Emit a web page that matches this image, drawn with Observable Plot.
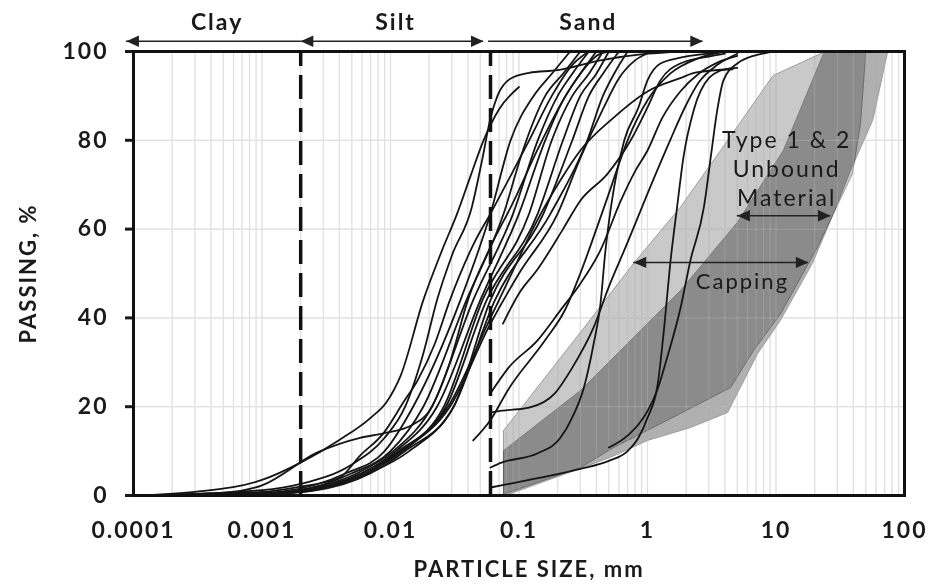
<!DOCTYPE html>
<html><head><meta charset="utf-8">
<script src="https://cdn.jsdelivr.net/npm/d3@7"></script>
<script src="https://cdn.jsdelivr.net/npm/@observablehq/plot@0.6"></script>
<style>
body{margin:0;background:#fff;}
#chart svg [aria-label="y-axis tick"]{stroke-width:3px;}
#chart svg g.tick line{stroke-width:3px;}
</style></head>
<body><div id="chart"></div>
<script>
// ---- axes ----
const xTicks = [0.0001, 0.001, 0.01, 0.1, 1, 10, 100];
const xTickLabels = ["0.0001", "0.001", "0.01", "0.1", "1", "10", "100"];
const yTicks = [0, 20, 40, 60, 80, 100];

// ---- soil classes (mm) ----
const classNames = ["Clay", "Silt", "Sand"];
const classLo = [0.0001, 0.002, 0.06];
const classHi = [0.002, 0.06, 2];
const classArrowStart = [0.000088, 0.002, 0.058];
const classArrowEnd = [0.002, 0.053, 2.7];
const classHeadStart = [true, true, false];
const classHeadEnd = [false, true, true];
const boundaries = [0.002, 0.06];

// ---- grading envelopes [size mm, passing %] ----
const cappingEnvelope = [[0.0757,0],[0.0757,14.6],[0.3,36.7],[0.78,52.3],[1.81,65],[3.7,77.7],[9.5,94.6],[23,99.7],[26,100],
  [50,100],[45.5,83.8],[39.4,72.5],[28,63.5],[21,55.9],[10.9,41],[6.7,32.7],[4.43,24.3],[1.81,18.5],[0.544,10.8],[0.301,6.3],[0.0785,0.45],[0.078,0]];
const type12Envelope = [[0.0757,0],[0.0757,10.1],[0.3,23.6],[1.81,46.2],[5.0,61.5],[11.4,77.7],[23.4,99.5],[25,100],
  [74,100],[56.6,84.5],[38,73.2],[28,63.5],[19.2,52.3],[10.8,39.4],[7.2,32],[4.2,18.7],[2.16,15.3],[1.0,12.4],[0.515,8.6],[0.3,6.1],[0.0785,0]];

// ---- grading curves [size mm, passing %] ----
const fine01 = [[0.0001,0],[0.0003,0.8],[0.001,3.5],[0.002,7.4],[0.004,12.5],[0.007,17.5],[0.0093,21],[0.012,27],[0.018,44],[0.025,55],[0.033,63.5],[0.042,72],[0.053,80],[0.07,87],[0.1,92]];
const fine02 = [[0.0001,0],[0.001,1.2],[0.002,2.6],[0.005,7],[0.009,13],[0.013,20],[0.018,32],[0.023,44],[0.03,54],[0.043,65],[0.052,76],[0.06,85],[0.068,90],[0.085,93.8],[0.12,95.2],[0.2,95.8],[0.43,98],[1.0,99.5],[1.8,100]];
const fine03 = [[0.0001,0],[0.0005,0.6],[0.001,2.3],[0.0027,9.7],[0.0058,13],[0.0088,14],[0.015,16],[0.02,19],[0.029,30],[0.04,44],[0.06,56],[0.09,66],[0.14,78],[0.22,89],[0.3,95],[0.4,99],[0.5,100]];
const fine04 = [[0.0001,0],[0.001,0.8],[0.002,2],[0.004,4],[0.0058,9],[0.0088,14],[0.0126,21],[0.0163,26],[0.022,34],[0.029,44],[0.045,57],[0.06,63.5],[0.086,72],[0.12,80],[0.18,90],[0.26,97],[0.35,100]];
const fine05 = [[0.0001,0],[0.0005,0.2],[0.0015,1],[0.0045,5],[0.009,10],[0.015,20],[0.035,44],[0.06,63.5],[0.086,80],[0.13,90],[0.18,95],[0.25,100]];
const fine06 = [[0.0001,0],[0.0006,0.2],[0.0018,1],[0.005,5],[0.01,10],[0.018,20],[0.039,44],[0.076,63.5],[0.108,78],[0.16,90],[0.22,95],[0.3,100]];
const fine07 = [[0.0001,0],[0.0006,0.2],[0.0017,1],[0.0055,5],[0.0105,10],[0.021,20],[0.044,44],[0.09,63.5],[0.14,80],[0.2,90],[0.26,95],[0.35,100]];
const fine08 = [[0.0001,0],[0.0007,0.2],[0.002,1],[0.006,5],[0.011,10],[0.023,20],[0.05,44],[0.1,63.5],[0.16,80],[0.22,89],[0.3,95],[0.4,100]];
const fine09 = [[0.0001,0],[0.0008,0.2],[0.0022,1],[0.0065,5],[0.012,10],[0.026,20],[0.052,44],[0.12,63.5],[0.18,80],[0.26,90],[0.35,95],[0.45,100]];
const fine10 = [[0.0001,0],[0.0006,0.2],[0.0019,1],[0.006,5],[0.0115,10],[0.027,20],[0.056,44],[0.14,63.5],[0.22,80],[0.3,90],[0.4,95],[0.5,100]];
const fine11 = [[0.0001,0],[0.0008,0.2],[0.0024,1],[0.007,5],[0.013,10],[0.031,20],[0.06,44],[0.155,63.5],[0.26,80],[0.35,90],[0.45,95],[0.6,100]];
const fine12 = [[0.0001,0],[0.0007,0.2],[0.0021,1],[0.0068,5],[0.014,10],[0.031,20],[0.065,44],[0.176,63.5],[0.34,80],[0.45,90],[0.55,95],[0.7,100]];
const fine13 = [[0.0001,0],[0.0008,0.2],[0.0023,1],[0.0065,5],[0.0125,10],[0.028,20],[0.06,40],[0.09,50.7],[0.13,60.4],[0.21,71],[0.3,77.7],[0.54,85],[1.0,91],[1.8,94],[2.4,95.3],[4.6,96]];
const fine14 = [[0.0001,0],[0.0007,0.2],[0.002,1],[0.006,5],[0.012,10],[0.029,20],[0.06,38.7],[0.1,50],[0.2,63.5],[0.3,76],[0.45,87],[0.6,94],[0.8,98],[1.1,100]];
const sand01 = [[0.06,1.8],[0.12,3.5],[0.2,4.8],[0.3,6],[0.5,7.8],[0.7,10],[0.85,13],[1.0,17.5],[1.2,25],[1.35,38],[1.5,52],[1.7,65],[1.9,76],[2.3,87],[3.0,94],[4.0,96],[5.0,96.3]];
const sand02 = [[0.5,10.8],[0.7,13.5],[0.85,16],[1.0,19],[1.2,24],[1.4,30.4],[1.8,42],[2.16,53],[2.75,65],[3.1,76],[3.5,87],[3.9,93.5],[5.0,97.3],[7.8,99.5],[9.5,100]];
const sand03 = [[0.06,6.3],[0.073,7.4],[0.14,9.5],[0.21,13],[0.26,17.6],[0.32,24.3],[0.38,34],[0.43,43],[0.47,55],[0.52,65],[0.66,80],[0.85,87.4],[1.0,93.5],[1.26,97.3],[1.8,98.6],[3.7,99.8]];
const sand04 = [[0.06,18.7],[0.074,19.1],[0.12,19.8],[0.19,23],[0.26,28.8],[0.38,37.8],[0.5,47],[0.7,57],[1.0,68],[1.5,80],[2.0,88],[2.5,93],[3.5,97],[5,99.5]];
const sand05 = [[0.06,23],[0.083,28.8],[0.14,35],[0.21,41.7],[0.3,47.7],[0.43,55.2],[0.62,66.4],[0.8,73],[1.0,77.7],[1.3,85],[1.8,91],[2.5,95],[3.5,97.5],[5,99]];
const sand06 = [[0.044,12.4],[0.06,17],[0.083,24],[0.16,35],[0.23,42],[0.3,50],[0.4,60],[0.5,68],[0.7,80],[1.0,89],[1.5,95],[2.5,98.5],[4,100]];
const sand07 = [[0.075,38.7],[0.1,45.5],[0.14,51],[0.22,60],[0.3,66.4],[0.49,72.5],[0.74,80],[1.0,87.4],[1.26,93.5],[1.8,97.3],[3.2,99],[4,99.5]];

// ---- annotations ----
const type12Label = {x: 12.1, y: 73.9, text: "Type 1 & 2\nUnbound\nMaterial"};
const cappingLabel = {x: 5.48, y: 48.2, text: "Capping"};
const type12Arrow = {y: 63, start: 5.0, end: 26.6};
const cappingArrow = {y: 52.5, start: 0.78, end: 17.9};
const classArrowY = 102.3;
const classLabelY = 106.5;

// ---- build tables ----
const curves = [fine01,fine02,fine03,fine04,fine05,fine06,fine07,fine08,fine09,fine10,fine11,fine12,fine13,fine14,
  sand01,sand02,sand03,sand04,sand05,sand06,sand07];
const curveRows = curves.flatMap((pts, id) => pts.map(([x, y]) => ({id, x, y})));
const classes = classNames.map((name, i) => ({name, lo: classLo[i], hi: classHi[i], start: classArrowStart[i], end: classArrowEnd[i], hs: classHeadStart[i], he: classHeadEnd[i]}));
const heads = [];
classes.forEach(c => { if (c.hs) heads.push({x: c.start, y: classArrowY, rot: 180}); if (c.he) heads.push({x: c.end, y: classArrowY, rot: 0}); });
const inner = [type12Arrow, cappingArrow];
inner.forEach(a => { heads.push({x: a.start, y: a.y, rot: 180}); heads.push({x: a.end, y: a.y, rot: 0}); });
const gridX = d3.scaleLog().domain([1e-4, 100]).ticks();
const gridY = [20, 40, 60, 80];

const arrowHead = {draw(ctx, size) { const r = Math.sqrt(size / Math.PI); ctx.moveTo(0, 0); ctx.lineTo(-2.1 * r, -0.95 * r); ctx.lineTo(-2.1 * r, 0.95 * r); ctx.closePath(); }};

const font = "Lato, 'Open Sans', 'DejaVu Sans', sans-serif";
const chart = Plot.plot({
  width: 931, height: 583,
  marginLeft: 133, marginRight: 27, marginTop: 51, marginBottom: 88,
  style: {fontFamily: font, fontSize: "23px", fontWeight: "bold", color: "#1a1a1a", background: "#fff", overflow: "visible", letterSpacing: "2px"},
  x: {type: "log", domain: [1e-4, 100], ticks: xTicks, tickFormat: d => xTickLabels[xTicks.indexOf(d)], tickSize: 0, tickPadding: 26, label: null},
  y: {domain: [0, 100], ticks: yTicks, tickSize: 8, tickPadding: 17, label: null},
  marks: [
    Plot.ruleX(gridX, {stroke: "#d9d9d9", strokeWidth: 1.2}),
    Plot.ruleY(gridY, {stroke: "#d9d9d9", strokeWidth: 1.2}),
    Plot.line(cappingEnvelope, {x: d => d[0], y: d => d[1], fill: "#c9c9c9", stroke: "#9c9c9c", strokeWidth: 1, curve: "linear-closed", mixBlendMode: "multiply"}),
    Plot.line(type12Envelope, {x: d => d[0], y: d => d[1], fill: "#b0b0b0", stroke: "#9c9c9c", strokeWidth: 1, curve: "linear-closed", mixBlendMode: "multiply"}),
    Plot.ruleX(gridX, {stroke: "#f2f2f2", strokeOpacity: 0.3, strokeWidth: 1.2}),
    Plot.ruleY(gridY, {stroke: "#f2f2f2", strokeOpacity: 0.3, strokeWidth: 1.2}),
    Plot.line(curveRows, {x: "x", y: "y", z: "id", stroke: "#151515", strokeWidth: 1.8, curve: "monotone-x"}),
    Plot.ruleX(boundaries, {y1: 0, y2: 100, stroke: "#111", strokeWidth: 3.5, strokeDasharray: "24,9"}),
    Plot.frame({stroke: "#111", strokeWidth: 3}),
    Plot.ruleY(classes, {y: classArrowY, x1: "start", x2: "end", stroke: "#222", strokeWidth: 1.5}),
    Plot.ruleY(inner, {y: "y", x1: "start", x2: "end", stroke: "#222", strokeWidth: 1.5}),
    Plot.dot(heads, {x: "x", y: "y", rotate: "rot", symbol: arrowHead, r: 6, fill: "#222", stroke: "none"}),
    Plot.text(classes, {x: d => Math.sqrt(d.lo * d.hi), y: classLabelY, text: "name", fontSize: 23, fontWeight: "bold", fill: "#1a1a1a"}),
    Plot.text([type12Label], {x: "x", y: "y", text: "text", fontSize: 23, fontWeight: "normal", lineHeight: 1.27, fill: "#1a1a1a"}),
    Plot.text([cappingLabel], {x: "x", y: "y", text: "text", fontSize: 22, fontWeight: "normal", fill: "#1a1a1a"}),
    Plot.text(["PASSING, %"], {frameAnchor: "left", textAnchor: "middle", dx: -105, rotate: -90, fontSize: 22, fontWeight: "bold", fill: "#1a1a1a"}),
    Plot.text(["PARTICLE SIZE, mm"], {frameAnchor: "bottom", dx: 10, dy: 81, fontSize: 22, fontWeight: "bold", fill: "#1a1a1a"})
  ]
});
document.getElementById("chart").appendChild(chart);
</script>
</body></html>
